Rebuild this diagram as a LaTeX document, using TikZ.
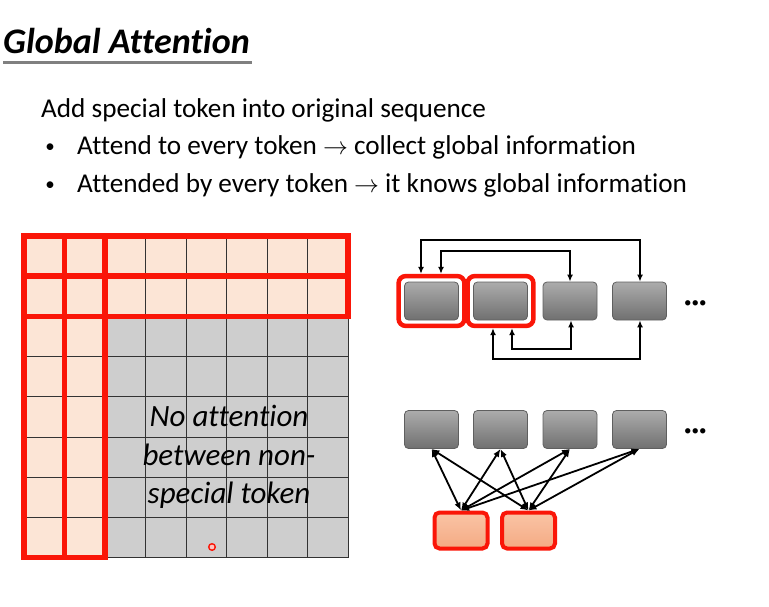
\documentclass[tikz,border=0pt]{standalone}
\usepackage{fontspec}
\setmainfont{Carlito}[Ligatures={NoCommon}]
\usetikzlibrary{arrows.meta,fit,calc}
\definecolor{myred}{RGB}{250,22,8}
\definecolor{peach}{RGB}{252,229,214}
\definecolor{cellgray}{RGB}{206,206,206}
\definecolor{boxtop}{RGB}{172,172,172}
\definecolor{boxbot}{RGB}{112,112,112}
\definecolor{boxline}{RGB}{95,95,95}
\definecolor{saltop}{RGB}{250,196,166}
\definecolor{salbot}{RGB}{244,170,130}
\begin{document}
\begin{tikzpicture}[x=1pt,y=-1pt,
  txt/.style={anchor=base west,inner sep=0pt,font=\fontsize{27.2}{32}\selectfont},
  bul/.style={anchor=base,inner sep=0pt,font=\fontsize{19}{22}\selectfont},
  graybox/.style={draw=boxline,line width=0.8pt,rounded corners=4pt,top color=boxtop,bottom color=boxbot,minimum width=54pt,minimum height=38pt,inner sep=0pt},
  specbox/.style={draw=myred,line width=4pt,rounded corners=5pt,top color=saltop,bottom color=salbot,minimum width=53pt,minimum height=36pt,inner sep=0pt},
  hlframe/.style={draw=myred,line width=4.5pt,rounded corners=7pt,inner sep=5.5pt},
  gridline/.style={black!80,line width=0.9pt},
  redgrid/.style={myred,line width=5.5pt},
  conn/.style={black,line width=1.8pt,{Latex[length=7pt,width=6pt]}-{Latex[length=7pt,width=6pt]}},
  conn2/.style={black,line width=1.8pt,{Latex[length=8pt,width=6.5pt]}-{Latex[length=8pt,width=6.5pt]}},
  dots/.style={font=\fontsize{15}{18}\selectfont,inner sep=0pt,anchor=west}
]
\useasboundingbox (0,0) rectangle (769,607);
% title
\node[anchor=base west,inner sep=0pt,font=\bfseries\itshape\fontsize{36}{40}\selectfont] (title) at (3,53.3) {Global Attention};
\coordinate (ul1) at (3,62.7);
\coordinate (ul2) at (252,62.7);
\draw[black!50,line width=2.5pt] (ul1) -- (ul2);
% body text
\node[txt] (l0) at (41,117.7) {Add special token into original sequence};
\node[bul] (b1) at (50,153) {•};
\node[txt] (l1) at (77,155) {Attend to every token $\rightarrow$ collect global information};
\node[bul] (b2) at (50,190.5) {•};
\node[txt] (l2) at (77,192.5) {Attended by every token $\rightarrow$ it knows global information};
% grid
\fill[peach] (24,236) rectangle (348,316.4);
\fill[peach] (24,316.4) rectangle (105,557.6);
\fill[cellgray] (105,316.4) rectangle (348,557.6);
\foreach \i in {0,...,8} {
  \draw[gridline] ({24+\i*40.5},236) -- ({24+\i*40.5},557.6);
  \draw[gridline] (24,{236+\i*40.2}) -- (348,{236+\i*40.2});
}
\draw[redgrid] (24,236) rectangle (348,276.2);
\draw[redgrid] (24,276.2) rectangle (348,316.4);
\draw[redgrid] (24,236) rectangle (64.5,557.6);
\draw[redgrid] (64.5,236) rectangle (105,557.6);
\node[align=center,inner sep=0pt,font=\itshape\fontsize{31}{38.5}\selectfont] (noatt) at (229,457) {No attention\\between non-\\special token};
\draw[myred,line width=1.4pt,fill=myred!25] (212,547) circle (3.3pt);
% top right: special tokens in sequence
\node[graybox] (t1) at (431.5,301) {};
\node[graybox] (t2) at (500.5,301) {};
\node[graybox] (t3) at (570,301) {};
\node[graybox] (t4) at (639.5,301) {};
\node[hlframe,fit=(t1)] (f1) {};
\node[hlframe,fit=(t2)] (f2) {};
\node[dots] (d1) at (684,304) {•••};
\coordinate (ya) at (0,240);
\coordinate (yb) at (0,251);
\coordinate (yc) at (0,349);
\coordinate (yd) at (0,359);
\coordinate (a1) at ([xshift=-10.5pt]f1.north);
\coordinate (a2) at ([xshift=9.5pt]f1.north);
\coordinate (a3) at ([xshift=-7.5pt]f2.south);
\coordinate (a4) at ([xshift=11.5pt]f2.south);
\draw[conn] (a1) -- (a1 |- ya) -| ([xshift=0.5pt]t4.north);
\draw[conn] (a2) -- (a2 |- yb) -| (t3.north);
\draw[conn] (a3) -- (a3 |- yd) -| ([xshift=0.5pt]t4.south);
\draw[conn] (a4) -- (a4 |- yc) -| ([xshift=1pt]t3.south);
% bottom right: extra special tokens
\node[graybox] (m1) at (431.5,429.5) {};
\node[graybox] (m2) at (500.5,429.5) {};
\node[graybox] (m3) at (570,429.5) {};
\node[graybox] (m4) at (639.5,429.5) {};
\node[dots] (d2) at (684,432) {•••};
\node[specbox] (s1) at (461,530.5) {};
\node[specbox] (s2) at (528.5,530.5) {};
\foreach \s in {s1,s2} {
  \foreach \m in {m1,m2,m3,m4} {
    \draw[conn2] (\s.north) -- (\m.south);
  }
}
\end{tikzpicture}
\end{document}
